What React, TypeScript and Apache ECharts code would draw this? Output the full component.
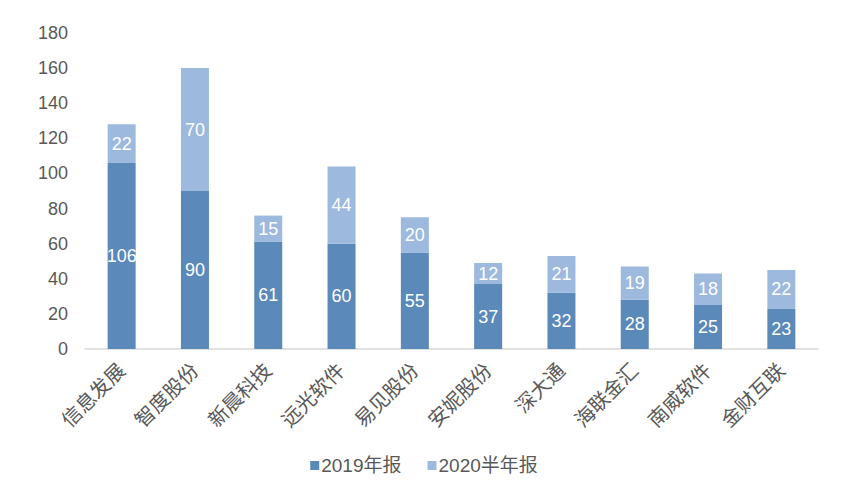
import { useEffect, useRef } from "react";
import * as echarts from "echarts";

const categories = ["信息发展", "智度股份", "新晨科技", "远光软件", "易见股份", "安妮股份", "深大通", "海联金汇", "南威软件", "金财互联"];
const report2019 = [106, 90, 61, 60, 55, 37, 32, 28, 25, 23];
const half2020 = [22, 70, 15, 44, 20, 12, 21, 19, 18, 22];
const seriesNames = ["2019年报", "2020半年报"];

const FONT = "'Liberation Sans', 'Noto Sans CJK SC', sans-serif";

export default function App() {
  const ref = useRef<HTMLDivElement>(null);

  useEffect(() => {
    if (!ref.current) return;
    const chart = echarts.init(ref.current, undefined, { renderer: "svg" });
    const label = {
      show: true,
      position: "inside" as const,
      color: "#ffffff",
      fontSize: 18,
      fontFamily: FONT,
    };
    chart.setOption({
      animation: false,
      textStyle: { fontFamily: FONT },
      grid: { left: 85, right: 30, top: 33, bottom: 147, containLabel: false },
      legend: {
        bottom: 16,
        left: "center",
        itemWidth: 9,
        itemHeight: 9,
        itemGap: 26,
        icon: "rect",
        textStyle: { color: "#595959", fontSize: 19, fontFamily: FONT, padding: [0, 0, 0, -3] },
        data: seriesNames,
      },
      xAxis: {
        type: "category",
        data: categories,
        axisLine: { lineStyle: { color: "#d9d9d9", width: 1.5 } },
        axisTick: { show: false },
        axisLabel: { rotate: 45, color: "#595959", fontSize: 20, fontFamily: FONT, margin: 18, interval: 0 },
      },
      yAxis: {
        type: "value",
        min: 0,
        max: 180,
        interval: 20,
        splitLine: { show: false },
        axisLine: { show: false },
        axisTick: { show: false },
        axisLabel: { color: "#595959", fontSize: 18, fontFamily: FONT, margin: 17 },
      },
      series: [
        {
          name: seriesNames[0],
          type: "bar",
          stack: "total",
          barWidth: 28,
          data: report2019,
          itemStyle: { color: "#5b89ba" },
          label,
        },
        {
          name: seriesNames[1],
          type: "bar",
          stack: "total",
          barWidth: 28,
          data: half2020,
          itemStyle: { color: "#9db9dd" },
          label,
        },
      ],
    });
    return () => chart.dispose();
  }, []);

  return <div ref={ref} style={{ position: "absolute", left: 0, top: 0, width: 848, height: 496 }} />;
}
